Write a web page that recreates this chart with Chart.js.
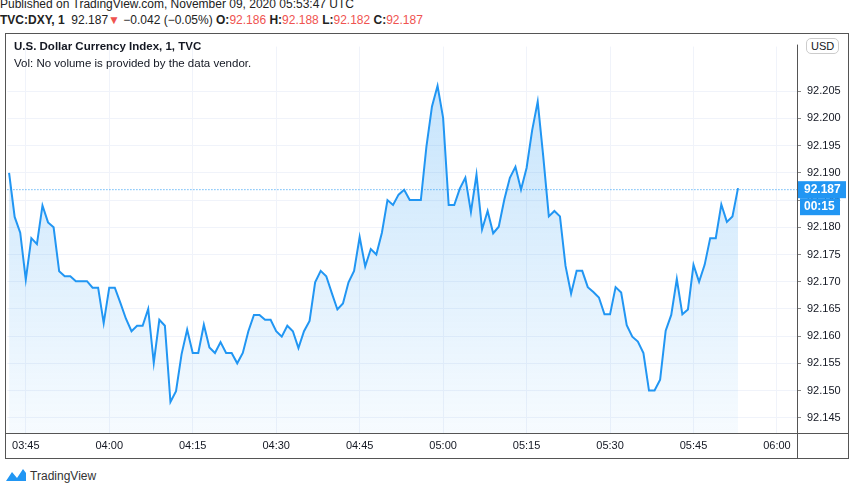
<!DOCTYPE html>
<html><head><meta charset="utf-8">
<script src="https://cdn.jsdelivr.net/npm/chart.js@4"></script>
<style>
body{margin:0;width:852px;height:485px;background:#fff;position:relative;overflow:hidden;font-family:"Liberation Sans",Arial,sans-serif;color:#131722}
.t{position:absolute;white-space:nowrap}
#frame{position:absolute;left:5px;top:33px;width:842px;height:424px;border:1px solid #555}
#wrap{position:absolute;left:6px;top:34px;width:842px;height:424px}
.r{color:#ef5350}
</style></head><body>
<div class="t" style="left:0;top:-3px;font-size:12px;color:#222">Published on TradingView.com, November 09, 2020 05:53:47 UTC</div>
<div class="t" style="left:0;top:13px;font-size:12px;color:#222"><b>TVC:DXY, 1</b>&nbsp; 92.187<span class="r">▼</span> −0.042 (−0.05%) <b>O:</b><span class="r">92.186</span> <b>H:</b><span class="r">92.188</span> <b>L:</b><span class="r">92.182</span> <b>C:</b><span class="r">92.187</span></div>
<div id="frame"></div>
<div id="wrap"><canvas id="c"></canvas></div>
<div class="t" style="left:14px;top:40px;font-size:11.5px;font-weight:bold">U.S. Dollar Currency Index, 1, TVC</div>
<div class="t" style="left:14px;top:57px;font-size:11.5px">Vol: No volume is provided by the data vendor.</div>
<div class="t" style="left:806px;top:38px;font-size:11px;border:1px solid #ccc;border-radius:5px;padding:1px 4px;background:#fff">USD</div>
<div class="t" style="left:5px;top:467px;font-size:12px;color:#333"><svg width="22" height="16" viewBox="0 0 22 16" style="vertical-align:-3px"><path d="M1 14 L7 5 L12 11 L18 2 L21 6 L21 14 Z" fill="#2196f3"/></svg> TradingView</div>
<script>
const startMinute = 3*60+42;
const prices = [
92.1900,92.1819,92.1790,92.1704,92.1780,92.1769,92.1840,92.1809,92.1800,92.1719,
92.1710,92.1710,92.1701,92.1701,92.1701,92.1689,92.1689,92.1624,92.1689,92.1689,
92.1661,92.1632,92.1609,92.1619,92.1619,92.1650,92.1551,92.1630,92.1619,92.1479,
92.1499,92.1567,92.1612,92.1569,92.1569,92.1621,92.1579,92.1569,92.1589,92.1569,
92.1569,92.1550,92.1569,92.1609,92.1639,92.1639,92.1630,92.1630,92.1609,92.1599,
92.1619,92.1609,92.1578,
92.1609,92.1628,92.1699,92.1720,92.1710,92.1679,92.1649,92.1660,92.1699,92.1720,
92.1782,92.1728,92.1760,92.1750,92.1790,
92.1850,92.1841,92.1860,92.1869,92.1850,92.1850,92.1850,92.1948,92.2022,92.2060,
92.2001,92.1841,92.1841,92.1871,92.1891,92.1828,92.1897,92.1796,92.1830,92.1789,
92.1801,92.1851,92.1891,92.1911,92.1869,92.1909,92.1978,92.2031,92.1930,92.1820,
92.1830,92.1820,92.1729,92.1678,92.1720,92.1720,92.1690,92.1681,92.1671,92.1640,
92.1640,92.1690,92.1680,92.1620,92.1599,92.1590,92.1569,92.1500,92.1500,92.1520,
92.1610,92.1639,92.1705,92.1640,92.1649,92.1731,92.1700,92.1731,92.1780,92.1780,
92.1842,92.1810,92.1820,92.1872];
const yTicks = [92.145,92.150,92.155,92.160,92.165,92.170,92.175,92.180,92.185,92.190,92.195,92.200,92.205];
const timeTicks = ["03:45","04:00","04:15","04:30","04:45","05:00","05:15","05:30","05:45","06:00"];
const lastPrice = 92.187;

const pts = prices.map((v,i)=>({x:i,y:v}));
const tickIdx = timeTicks.map(t=>{const [h,m]=t.split(':').map(Number);return h*60+m-startMinute;});

const overlay = {
  id:'overlay',
  afterDatasetsDraw(ch){
    const {ctx,chartArea:a,scales:{y}}=ch;
    const py=y.getPixelForValue(lastPrice);
    ctx.save();
    ctx.strokeStyle='#2196f3';ctx.lineWidth=1;ctx.setLineDash([1,2]);
    ctx.beginPath();ctx.moveTo(a.left,py+0.5);ctx.lineTo(a.right,py+0.5);ctx.stroke();
    ctx.setLineDash([]);
    ctx.fillStyle='#2196f3';
    ctx.fillRect(a.right+1,py-8,48,17);
    ctx.fillRect(a.right+3,py+9,40,17);
    ctx.fillStyle='#fff';ctx.font='bold 12px "Liberation Sans",Arial';ctx.textBaseline='middle';ctx.textAlign='left';
    ctx.fillText(lastPrice.toFixed(3),a.right+7,py+1);
    ctx.fillText('00:15',a.right+7,py+18);
    ctx.strokeStyle='#555';ctx.lineWidth=1;
    ctx.beginPath();ctx.moveTo(a.right+0.5,a.top-2);ctx.lineTo(a.right+0.5,ch.height);ctx.stroke();
    ctx.beginPath();ctx.moveTo(0,a.bottom+0.5);ctx.lineTo(ch.width,a.bottom+0.5);ctx.stroke();
    ctx.restore();
  }
};

new Chart(document.getElementById('c'),{
  type:'line',
  data:{datasets:[{data:pts,borderColor:'#2196f3',borderWidth:2,pointRadius:0,tension:0,
    fill:'start',
    backgroundColor:(c)=>{const a=c.chart.chartArea;if(!a)return 'rgba(33,150,243,0.15)';
      const g=c.chart.ctx.createLinearGradient(0,a.top,0,a.bottom);
      g.addColorStop(0,'rgba(33,150,243,0.28)');g.addColorStop(1,'rgba(33,150,243,0.04)');return g;}}]},
  options:{
    responsive:true,maintainAspectRatio:false,animation:false,
    layout:{padding:{left:1,top:0,right:0,bottom:0}},
    plugins:{legend:{display:false},tooltip:{enabled:false}},
    scales:{
      x:{type:'linear',min:-0.3,max:141.6,
        afterBuildTicks:(s)=>{s.ticks=tickIdx.map(v=>({value:v}));},
        ticks:{autoSkip:false,maxRotation:0,color:'#131722',font:{size:11,family:'"Liberation Sans",Arial'},padding:6,
          callback:(v)=>{const i=tickIdx.indexOf(v);return i>=0?timeTicks[i]:'';}},
        grid:{color:'#f0f3fa',drawTicks:false},border:{display:false},
        afterFit:(s)=>{s.height=25;}},
      y:{position:'right',min:92.1422,max:92.2132,
        afterBuildTicks:(s)=>{s.ticks=yTicks.map(v=>({value:v}));},
        ticks:{color:'#131722',font:{size:11,family:'"Liberation Sans",Arial'},padding:6,callback:(v)=>v.toFixed(3)},
        grid:{color:'#f0f3fa',tickColor:'#888',tickLength:4},border:{display:false},
        afterFit:(s)=>{s.width=51;}}
    }
  },
  plugins:[overlay]
});
</script>
</body></html>
